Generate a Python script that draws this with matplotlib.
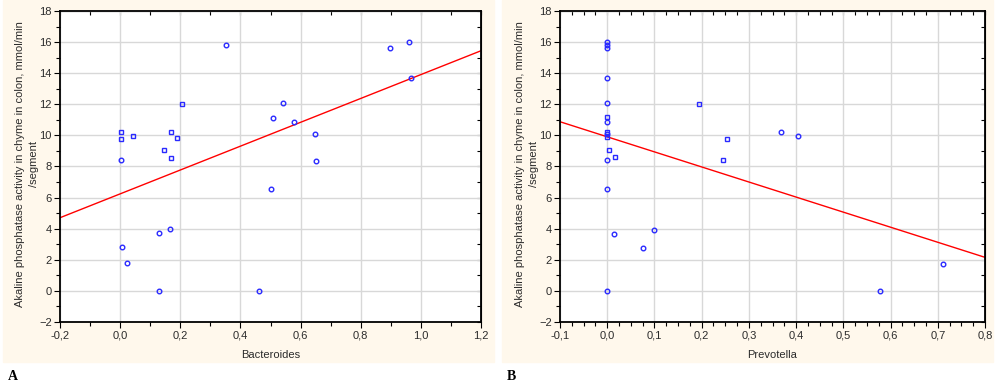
import numpy as np
import matplotlib
matplotlib.use("Agg")
import matplotlib.pyplot as plt
from matplotlib.ticker import MultipleLocator, FuncFormatter
from matplotlib.patches import Rectangle

plt.rcParams["font.family"] = ["Liberation Sans", "DejaVu Sans"]

# Panel A - Bacteroides
bact_circ_x = [0.352, 0.897, 0.960, 0.967, 0.543, 0.508, 0.578, 0.648, 0.652,
               0.002, 0.502, 0.129, 0.167, 0.007, 0.024, 0.129, 0.461]
bact_circ_y = [15.8, 15.64, 16.0, 13.7, 12.06, 11.14, 10.84, 10.1, 8.37,
               8.44, 6.55, 3.72, 4.0, 2.84, 1.77, 0.0, 0.0]
bact_sq_x = [0.002, 0.002, 0.044, 0.170, 0.188, 0.146, 0.170, 0.206]
bact_sq_y = [10.2, 9.79, 9.98, 10.2, 9.85, 9.04, 8.57, 12.02]
bact_fit = (6.24, 7.67)  # intercept, slope

# Panel B - Prevotella
prev_circ_x = [0.0, 0.0, 0.0, 0.0, 0.0, 0.0, 0.0, 0.0, 0.0, 0.0,
               0.014, 0.099, 0.076, 0.367, 0.405, 0.578, 0.710]
prev_circ_y = [16.0, 15.81, 15.64, 13.71, 12.08, 10.84, 10.07, 8.42, 6.53, 0.0,
               3.66, 3.94, 2.78, 10.2, 9.98, 0.0, 1.74]
prev_sq_x = [0.0, 0.0, 0.0, 0.003, 0.016, 0.195, 0.254, 0.245]
prev_sq_y = [11.16, 10.24, 9.88, 9.06, 8.59, 12.02, 9.77, 8.42]
prev_fit = (9.91, -9.69)

ylabel = "Akaline phosphatase activity in chyme in colon, mmol/min\n/segment"

W, H = 999, 386
fig = plt.figure(figsize=(W / 100, H / 100), dpi=100)
fig.patch.set_facecolor("white")

cream = "#fff8ec"
fig.patches.append(Rectangle((3 / W, 1 - 362 / H), 491 / W, 362 / H,
                             transform=fig.transFigure, color=cream, zorder=-10))
fig.patches.append(Rectangle((502 / W, 1 - 362 / H), 491 / W, 362 / H,
                             transform=fig.transFigure, color=cream, zorder=-10))

comma = FuncFormatter(lambda v, p: f"{v:.1f}".replace(".", ",").replace("-0,0", "0,0"))
blue = "#2a2aff"
txt = "#2b2b2b"


def panel(rect, cx, cy, sx, sy, fit, xlim, xmaj, xmin, xlabel, ylab_x):
    ax = fig.add_axes(rect)
    ax.set_facecolor("white")
    ax.set_xlim(*xlim)
    ax.set_ylim(-2, 18)
    ax.xaxis.set_major_locator(MultipleLocator(xmaj))
    ax.xaxis.set_minor_locator(MultipleLocator(xmin))
    ax.yaxis.set_major_locator(MultipleLocator(2))
    ax.yaxis.set_minor_locator(MultipleLocator(1))
    ax.xaxis.set_major_formatter(comma)
    ax.grid(True, which="major", color="#d8d8d8", lw=1)
    ax.set_axisbelow(True)
    ax.tick_params(which="both", direction="out", labelsize=8,
                   labelcolor=txt, width=0.8, pad=2)
    ax.tick_params(which="major", length=4)
    ax.tick_params(which="minor", length=3)
    for s in ax.spines.values():
        s.set_linewidth(1.3)
    top = ax.secondary_xaxis("top")
    top.xaxis.set_major_locator(MultipleLocator(xmaj))
    top.xaxis.set_minor_locator(MultipleLocator(xmin))
    top.tick_params(which="both", direction="in", labeltop=False, length=3, width=0.8)
    right = ax.secondary_yaxis("right")
    right.yaxis.set_major_locator(MultipleLocator(2))
    right.yaxis.set_minor_locator(MultipleLocator(1))
    right.tick_params(which="both", direction="in", labelright=False, length=3, width=0.8)

    xs = np.array(xlim)
    ax.plot(xs, fit[0] + fit[1] * xs, color="red", lw=1, zorder=2)
    ax.plot(cx, cy, "o", ms=3.3, mfc="none", mec=blue, mew=1, zorder=3)
    ax.plot(sx, sy, "s", ms=3.0, mfc="none", mec=blue, mew=1, zorder=3)
    ax.set_xlabel(xlabel, fontsize=8, color=txt, labelpad=7)
    fig.text(ylab_x / W, 1 - 164 / H, ylabel, rotation=90, fontsize=8, color=txt,
             ha="center", va="center", multialignment="center", linespacing=1.6)
    return ax


panel([60 / W, 64 / H, 421 / W, 311 / H], bact_circ_x, bact_circ_y, bact_sq_x, bact_sq_y,
      bact_fit, (-0.2, 1.2), 0.2, 0.1, "Bacteroides", 27)
panel([560 / W, 64 / H, 425 / W, 311 / H], prev_circ_x, prev_circ_y, prev_sq_x, prev_sq_y,
      prev_fit, (-0.1, 0.8), 0.1, 0.025, "Prevotella", 527)

fig.text(8 / W, 1 - 376 / H, "A", family="Liberation Serif", fontsize=10,
         fontweight="bold", va="center", ha="left")
fig.text(507 / W, 1 - 376 / H, "B", family="Liberation Serif", fontsize=10,
         fontweight="bold", va="center", ha="left")

fig.savefig("out.png", dpi=100)
